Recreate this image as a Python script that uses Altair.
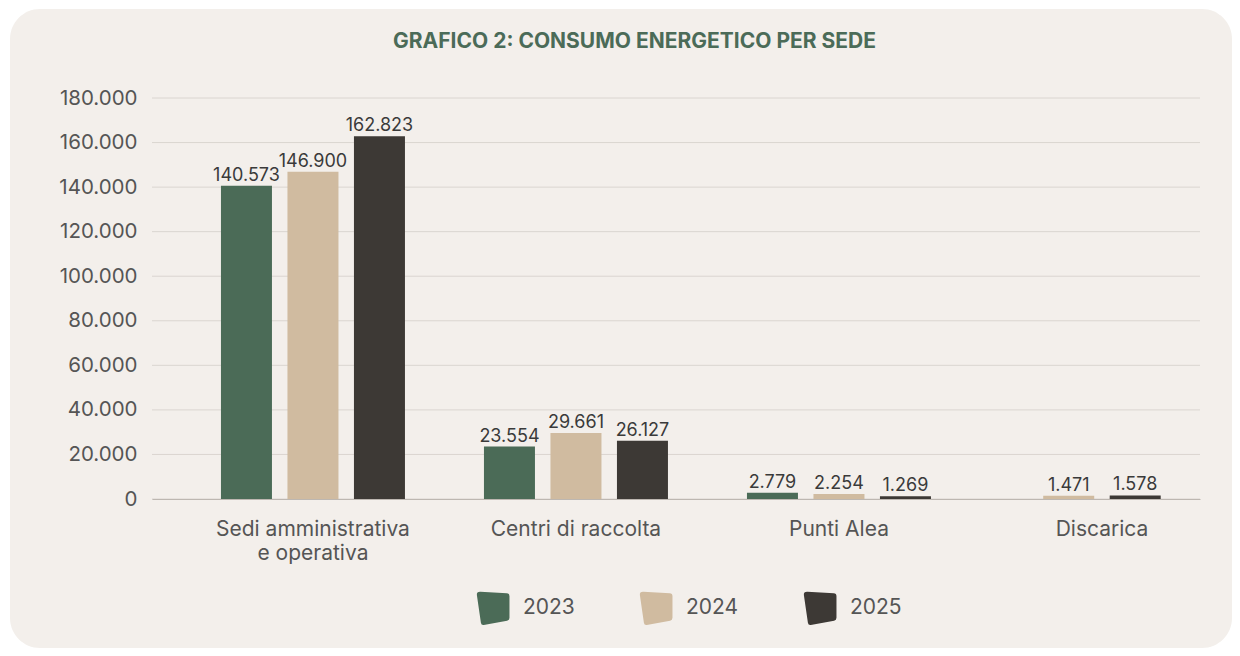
import altair as alt
import pandas as pd

# ---- data ----
sedi = ["Sedi amministrativa e operativa", "Centri di raccolta", "Punti Alea", "Discarica"]
years = ["2023", "2024", "2025"]
v2023 = [140573, 23554, 2779, None]
v2024 = [146900, 29661, 2254, 1471]
v2025 = [162823, 26127, 1269, 1578]
y_ticks = [0, 20000, 40000, 60000, 80000, 100000, 120000, 140000, 160000, 180000]
colors = ["#4B6B57", "#D0BBA0", "#3D3935"]
title_text = "GRAFICO 2: CONSUMO ENERGETICO PER SEDE"

rows = []
for yr, vals in zip(years, [v2023, v2024, v2025]):
    for s, v in zip(sedi, vals):
        if v is not None:
            rows.append({"sede": s, "anno": yr, "valore": v})
df = pd.DataFrame(rows)

FONT = "Inter"
W, H = 1048, 401
PAD = {"left": 144, "top": 90, "right": 32, "bottom": 149}

legend_path = ("M -0.75 -0.97 L 0.82 -0.88 Q 0.98 -0.87 0.98 -0.7 L 0.98 0.58 "
               "Q 0.98 0.72 0.84 0.75 L -0.55 1.0 Q -0.7 1.02 -0.72 0.87 "
               "L -0.96 -0.78 Q -0.98 -0.98 -0.75 -0.97 Z")

yscale = alt.Scale(domain=[0, 180000], nice=False)
y_axis = alt.Axis(title=None, values=y_ticks, format=",d", ticks=False,
                  domain=False, grid=False, labelFont=FONT, labelFontSize=20.5,
                  labelColor="#555555", labelPadding=15, zindex=1)

P_IN, P_OUT, ALIGN = 0.3, 0.1424, 0.92
STEP = W / (len(sedi) - P_IN + 2 * P_OUT)
HALF_BAND = STEP * (1 - P_IN) / 2
BAR_STEP = 66.5

x_enc = alt.X(
    "sede:N",
    sort=sedi,
    scale=alt.Scale(domain=sedi, paddingInner=P_IN, paddingOuter=P_OUT, align=ALIGN),
    axis=alt.Axis(
        title=None, labelAngle=0, ticks=False, domain=True, domainColor="#BDB7B1",
        domainWidth=1, labelFont=FONT, labelFontSize=21, labelColor="#555555",
        labelPadding=19, labelLineHeight=24, labelLimit=400, grid=False, zindex=1,
        labelExpr="indexof(datum.label, ' e ') > 0 ? [slice(datum.label, 0, indexof(datum.label, ' e ')), slice(datum.label, indexof(datum.label, ' e ') + 1)] : datum.label",
    ),
)
# bars of each group are centred on the category (missing years leave no gap)
xoff_enc = alt.XOffset("slot:Q", scale=alt.Scale(
    domain=[-1, 1], range=[HALF_BAND - BAR_STEP, HALF_BAND + BAR_STEP]))


def with_slots(ch):
    return ch.transform_joinaggregate(
        n="count()", groupby=["sede"]
    ).transform_window(
        r="row_number()", groupby=["sede"], sort=[alt.SortField("anno")]
    ).transform_calculate(
        slot="datum.r - 1 - (datum.n - 1) / 2"
    )


card = alt.Chart(alt.Data(values=[{}])).mark_rect(
    color="#F3EFEB", cornerRadius=30
).encode(
    x=alt.value(-142), x2=alt.value(W + PAD["right"]),
    y=alt.value(-89), y2=alt.value(H + PAD["bottom"]),
)

title = alt.Chart(alt.Data(values=[{"t": title_text}])).mark_text(
    font=FONT, fontSize=21, fontWeight="bold", color="#4B6B58",
    align="center", baseline="alphabetic"
).encode(
    text="t:N", x=alt.value(482.5), y=alt.value(-50)
)

grid = alt.Chart(pd.DataFrame({"t": y_ticks})).mark_rule(
    color="#DAD5D0", strokeWidth=1
).encode(
    y=alt.Y("t:Q", scale=yscale, axis=y_axis)
)

bars = with_slots(alt.Chart(df)).mark_bar(width=51).encode(
    x=x_enc,
    xOffset=xoff_enc,
    y=alt.Y("valore:Q", scale=yscale, axis=y_axis),
    color=alt.Color("anno:N", sort=years,
                    scale=alt.Scale(domain=years, range=colors),
                    legend=alt.Legend(
                        title=None, orient="none", direction="horizontal",
                        legendX=324, legendY=493, padding=0,
                        symbolType=legend_path, symbolSize=1130,
                        symbolStrokeWidth=0, symbolOpacity=1,
                        labelFont=FONT, labelFontSize=21, labelColor="#555555",
                        labelOffset=13, columnPadding=64,
                    )),
)

labels = with_slots(alt.Chart(df)).mark_text(
    font=FONT, fontSize=18, color="#3A3A3A", baseline="alphabetic", dy=-5
).encode(
    x=x_enc,
    xOffset=xoff_enc,
    y=alt.Y("valore:Q", scale=yscale, axis=y_axis),
    text=alt.Text("valore:Q", format=",d"),
)

chart = alt.layer(card, title, grid, bars, labels).properties(
    width=W, height=H,
    padding=PAD,
    autosize=alt.AutoSizeParams(type="none"),
    background="#FFFFFF",
).configure_view(stroke=None)

chart.save("out.html", embed_options={
    "renderer": "svg", "actions": False,
    "formatLocale": {"decimal": ",", "thousands": ".", "grouping": [3], "currency": ["€", ""]},
})
